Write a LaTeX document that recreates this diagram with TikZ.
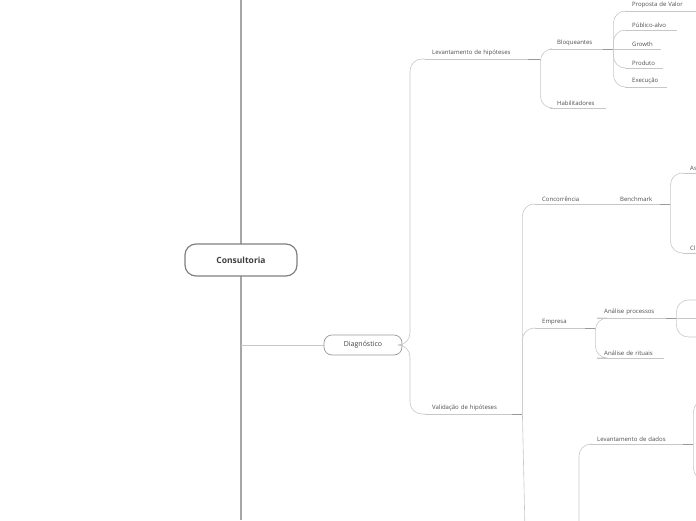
\documentclass[tikz,border=0pt]{standalone}
\usepackage{fontspec}
\setmainfont{Open Sans}
\usetikzlibrary{positioning}
\tikzset{
  link/.style={draw=black!22, line width=0.6pt},
  stub/.style={draw=black!40, line width=1pt},
  topic/.style={anchor=south west, inner xsep=7pt, inner ysep=2.5pt, text=black!70,
    text width=#1, align=left,
    font=\fontsize{6}{7}\selectfont,
    append after command={(\tikzlastnode.south west) edge[link] (\tikzlastnode.south east)}},
  root/.style={draw=black!50, line width=1.2pt, rounded corners=11pt, fill=white,
    minimum width=112pt, minimum height=32pt, font=\fontsize{8.5}{10}\selectfont\bfseries, text=black!75},
  main/.style={draw=black!40, line width=0.7pt, rounded corners=8pt, fill=white,
    minimum width=78pt, minimum height=20pt, font=\fontsize{7}{8}\selectfont, text=black!75},
  elbow/.style={link, rounded corners=12pt}
}
\begin{document}
\begin{tikzpicture}[x=1pt, y=-1pt]
\useasboundingbox (0,0) rectangle (696,520);
\begin{scope}
\clip (0,0) rectangle (696,520);

% trunk
\draw[draw=black!35, line width=2.5pt] (241,0) -- (241,520);
\draw[link] (241,345) -- (324,345);
\node [root] (consult) at (241,260) {Consultoria};
\node [main] (diag) at (363,345) {Diagnóstico};

% level 1
\node [topic=89pt] (levhip) at (425,59) {Levantamento de hipóteses};
\node [topic=73pt] (valhip) at (425,414) {Validação de hipóteses};
\draw[elbow] (diag.east) -- (410,345) |- (levhip.south west);
\draw[elbow] (diag.east) -- (410,345) |- (valhip.south west);
\draw[stub] (levhip.south east) -- ++(12,0) coordinate (levend);
\draw[stub] (valhip.south east) -- ++(10,0) coordinate (valend);

% levantamento de hipoteses
\node [topic=39pt] (bloq) at (550,49) {Bloqueantes};
\node [topic=42pt] (habil) at (550,108) {Habilitadores};
\draw[elbow] (levend) |- (bloq.south west);
\draw[elbow] (levend) |- (habil.south west);
\draw[stub] (bloq.south east) -- ++(10,0) coordinate (bloqend);

\node [topic=61pt] (proposta) at (625,11) {Proposta de Valor};
\node [topic=38pt] (publico) at (625,30) {Público-alvo};
\node [topic=22pt] (growth) at (625,49) {Growth};
\node [topic=24pt] (produto) at (625,68) {Produto};
\node [topic=28pt] (execucao) at (625,87) {Execução};
\foreach \n in {proposta,publico,produto,execucao}
  \draw[elbow] (bloqend) |- (\n.south west);
\draw[link] (bloqend) -- (growth.south west);

% validacao de hipoteses
\node [topic=64pt] (concor) at (535,204) {Concorrência};
\node [topic=33pt] (bench) at (613,204) {Benchmark};
\node [topic=36pt] (empresa) at (535,328) {Empresa};
\draw[elbow] (valend) |- (concor.south west);
\draw[elbow] (valend) |- (empresa.south west);
\draw[link] (valend) -- (525,530);
\draw[stub] (bench.south east) -- ++(10,0) coordinate (benchend);
\draw[stub] (empresa.south east) -- ++(10,0) coordinate (empend);

\node [topic=16pt] (asx) at (683,173) {As};
\node [topic=16pt] (clx) at (683,253) {Cl};
\draw[elbow] (benchend) |- (asx.south west);
\draw[elbow] (benchend) |- (clx.south west);

\node [topic=55pt] (procs) at (597,318) {Análise processos};
\node [topic=53pt] (ritual) at (597,358) {Análise de rituais};
\draw[elbow] (empend) |- (procs.south west);
\draw[elbow] (empend) |- (ritual.south west);
\draw[stub] (procs.south east) -- ++(10,0) coordinate (procend);
\coordinate (procup) at (700,300);
\coordinate (procdn) at (700,337);
\draw[elbow] (procend) |- (procup);
\draw[elbow] (procend) |- (procdn);
\draw[link] (procend) -- (700,318);

% levantamento de dados
\node [topic=79pt] (dados) at (590,444) {Levantamento de dados};
\draw[stub] (dados.south east) -- ++(10,0) coordinate (dadosend);
\coordinate (dadosup) at (705,400);
\coordinate (dadosdn) at (705,480);
\draw[elbow] (dadosend) |- (dadosup);
\draw[elbow] (dadosend) |- (dadosdn);
\coordinate (dadosroot) at (579,540);
\draw[elbow] (dadosroot) |- (dados.south west);
\end{scope}
\end{tikzpicture}
\end{document}
